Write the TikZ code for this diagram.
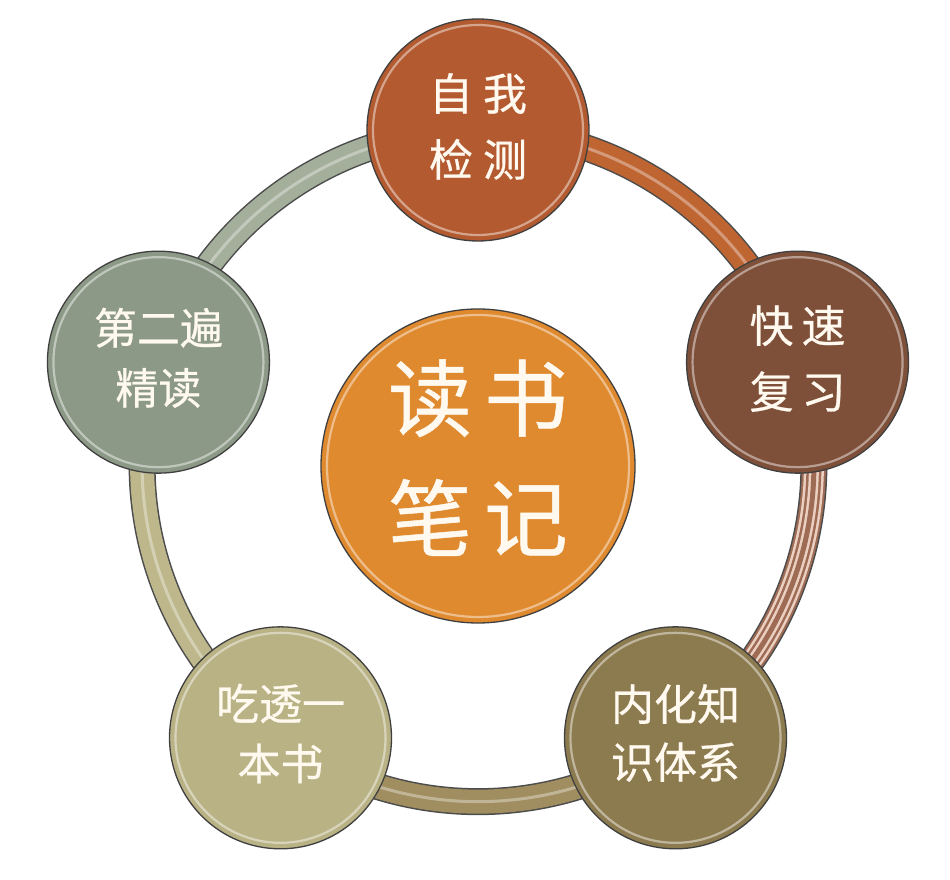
\documentclass[tikz,border=0pt]{standalone}
\usepackage{fontspec}
\newfontfamily\cjk[FakeBold=0.6]{Noto Sans CJK SC}
\usetikzlibrary{backgrounds,calc}
\definecolor{cTop}{HTML}{B35A30}
\definecolor{cRight}{HTML}{7F5039}
\definecolor{cBR}{HTML}{8D7B50}
\definecolor{cBL}{HTML}{B9B285}
\definecolor{cLeft}{HTML}{8C9986}
\definecolor{cMid}{HTML}{DF8A2F}
\definecolor{aTop}{HTML}{BE6532}
\definecolor{aBR}{HTML}{A08E60}
\definecolor{aBL}{HTML}{BDB78B}
\definecolor{aLeft}{HTML}{A3AE9B}
\definecolor{pinkS}{HTML}{EBD0C2}
\definecolor{brownS}{HTML}{9E6B55}
\definecolor{txt}{HTML}{FFF9EF}
\newcommand\mylines[2]{\raisebox{#1}{\begin{tabular}{@{}c@{}}#2\end{tabular}}}
\tikzset{
  x=1pt, y=1pt,
  disc/.style={circle, draw=black!75, line width=1.3pt, fill=#1, text=txt,
    align=center, inner sep=0pt,
    path picture={\draw[white, opacity=0.45, line width=2.2pt]
      (path picture bounding box.center) circle[radius=\pgfkeysvalueof{/pgf/minimum width}/2-6pt];}},
  small/.style={minimum size=222pt, font=\cjk\fontsize{44}{66}\selectfont},
  big/.style={minimum size=314pt, font=\cjk\fontsize{84}{120}\selectfont},
  bandout/.style={draw=black!70, line width=27pt},
  band/.style={draw=#1, line width=24pt},
  shine/.style={draw=white, opacity=0.35, line width=3pt},
  ring/.style={bend left=36, looseness=0.94},
}
\begin{document}
\begin{tikzpicture}
\useasboundingbox (0,0) rectangle (950,880);
\coordinate (O) at (478,414);
\node[disc=cMid, big] (mid) at (O) {\mylines{10pt}{读\hspace{12pt}书\\笔\hspace{12pt}记}};
\node[disc=cTop, small] (t) at ($(O)+(90:336)$) {\mylines{4pt}{自\hspace{10pt}我\\检\hspace{10pt}测}};
\node[disc=cRight, small] (r) at ($(O)+(18:336)$) {\mylines{6pt}{快\hspace{8pt}速\\复\hspace{8pt}习}};
\node[disc=cBR, small, font=\cjk\fontsize{43}{58}\selectfont] (br) at ($(O)+(-54:336)$) {\mylines{8pt}{内化知\\识体系}};
\node[disc=cBL, small, font=\cjk\fontsize{43}{60}\selectfont] (bl) at ($(O)+(-126:336)$) {\mylines{9pt}{吃透一\\本书}};
\node[disc=cLeft, small, font=\cjk\fontsize{43}{60}\selectfont] (l) at ($(O)+(162:336)$) {\mylines{4pt}{第二遍\\精读}};
\begin{scope}[on background layer]
  \fill[white] (0,0) rectangle (950,880);
  % top -> right
  \draw[bandout] (t.center) to[ring] (r.center);
  \draw[band=aTop] (t.center) to[ring] (r.center);
  \draw[shine] (t.center) to[ring] (r.center);
  % right -> bottom right (striped)
  \draw[bandout] (r.center) to[ring] (br.center);
  \draw[band=brownS] (r.center) to[ring] (br.center);
  \draw[draw=pinkS, line width=20pt] (r.center) to[ring] (br.center);
  \draw[draw=brownS, line width=15pt] (r.center) to[ring] (br.center);
  \draw[draw=pinkS, line width=10pt] (r.center) to[ring] (br.center);
  \draw[draw=brownS, line width=5pt] (r.center) to[ring] (br.center);
  % bottom right -> bottom left
  \draw[bandout] (br.center) to[ring] (bl.center);
  \draw[band=aBR] (br.center) to[ring] (bl.center);
  \draw[shine] (br.center) to[ring] (bl.center);
  % bottom left -> left
  \draw[bandout] (bl.center) to[ring] (l.center);
  \draw[band=aBL] (bl.center) to[ring] (l.center);
  \draw[shine] (bl.center) to[ring] (l.center);
  % left -> top
  \draw[bandout] (l.center) to[ring] (t.center);
  \draw[band=aLeft] (l.center) to[ring] (t.center);
  \draw[shine] (l.center) to[ring] (t.center);
\end{scope}
\end{tikzpicture}
\end{document}
